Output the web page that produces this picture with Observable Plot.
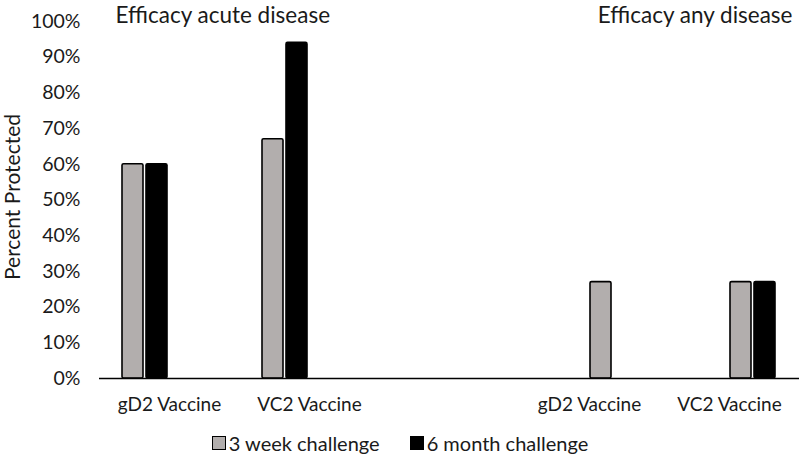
<!DOCTYPE html>
<html>
<head>
<meta charset="utf-8">
<script src="https://cdn.jsdelivr.net/npm/d3@7"></script>
<script src="https://cdn.jsdelivr.net/npm/@observablehq/plot@0.6"></script>
<style>
  body { margin: 0; background: #fff; font-family: Lato, "Open Sans", sans-serif; color: #1a1a1a; }
  #chart svg { display: block; }
  #legend { display: flex; justify-content: center; gap: 30px; font-size: 20px; padding-top: 6px; line-height: 24px; }
  #legend .item { display: flex; align-items: center; gap: 3px; }
  #legend .sw { width: 14px; height: 14px; border: 1.5px solid #000; box-sizing: border-box; display: inline-block; }
</style>
</head>
<body>
<div id="chart"></div>
<div id="legend"></div>
<script>
// ---- data ----
const groupKeys   = ["gD2-acute", "VC2-acute", "gap", "gD2-any", "VC2-any"];
const groupLabels = ["gD2 Vaccine", "VC2 Vaccine", "", "gD2 Vaccine", "VC2 Vaccine"];
const seriesKeys  = ["acute-3wk", "acute-6mo", "any-3wk", "any-6mo"];
const seriesNames = ["3 week challenge", "6 month challenge"];
const seriesColors = ["#b2aead", "#000000", "#b2aead", "#000000"];
const panelTitles = ["Efficacy acute disease", "Efficacy any disease"];
const yTitle = "Percent Protected";
// values per vaccine [gD2, VC2]
const acute3wk = [0.60, 0.67];
const acute6mo = [0.60, 0.94];
const any3wk   = [0.27, 0.27];
const any6mo   = [0.00, 0.27];
const yTicks   = [0, 0.1, 0.2, 0.3, 0.4, 0.5, 0.6, 0.7, 0.8, 0.9, 1.0];

// ---- table ----
const rows = [];
[[acute3wk, "acute-3wk", ["gD2-acute", "VC2-acute"]],
 [acute6mo, "acute-6mo", ["gD2-acute", "VC2-acute"]],
 [any3wk,   "any-3wk",   ["gD2-any", "VC2-any"]],
 [any6mo,   "any-6mo",   ["gD2-any", "VC2-any"]]].forEach(([vals, s, gs]) => {
  vals.forEach((v, i) => { if (v > 0) rows.push({group: gs[i], series: s, value: v}); });
});

const chart = Plot.plot({
  width: 800,
  height: 425,
  marginLeft: 99,
  marginRight: 1,
  marginTop: 21,
  marginBottom: 47,
  style: {fontFamily: "Lato, sans-serif", color: "#1a1a1a", background: "#fff"},
  fx: {domain: groupKeys, padding: 0},
  x: {domain: seriesKeys, paddingInner: 0.12, paddingOuter: 0.92, axis: null},
  y: {domain: [0, 1]},
  color: {domain: seriesKeys, range: seriesColors},
  marks: [
    Plot.barY(rows, {fx: "group", x: "series", y: "value", fill: "series",
      stroke: "#000", strokeWidth: 1.6, rx: 1.5}),
    Plot.ruleY(groupKeys, {fx: d => d, y: () => 0, stroke: "#000", strokeWidth: 1.6}),
    Plot.axisY({ticks: yTicks, tickFormat: d3.format(".0%"), tickSize: 0, tickPadding: 19,
      fontSize: 19.5, line: true, stroke: "#000", strokeWidth: 1.6, fill: "#1a1a1a", label: null}),
    Plot.text([yTitle], {fx: () => groupKeys[0], text: d => d, frameAnchor: "left", rotate: -90,
      textAnchor: "middle", lineAnchor: "middle", dx: -86, dy: -3, fontSize: 21, fill: "#1a1a1a"}),
    Plot.axisFx({anchor: "bottom", tickSize: 0, tickPadding: 19, fontSize: 19, label: null, fill: "#1a1a1a",
      tickFormat: k => groupLabels[groupKeys.indexOf(k)]}),
    Plot.text([panelTitles[0]], {fx: () => groupKeys[0], text: d => d, frameAnchor: "top-left",
      textAnchor: "start", lineAnchor: "middle", dx: 16, dy: -6, fontSize: 22.5, fill: "#1a1a1a"}),
    Plot.text([panelTitles[1]], {fx: () => groupKeys[4], text: d => d, frameAnchor: "top-right",
      textAnchor: "end", lineAnchor: "middle", dx: -7, dy: -6, fontSize: 22.5, fill: "#1a1a1a"})
  ]
});
document.getElementById("chart").appendChild(chart);

// legend
const legend = d3.select("#legend");
seriesNames.forEach((name, i) => {
  const item = legend.append("div").attr("class", "item");
  item.append("span").attr("class", "sw").style("background", seriesColors[i]);
  item.append("span").text(name);
});
</script>
</body>
</html>
